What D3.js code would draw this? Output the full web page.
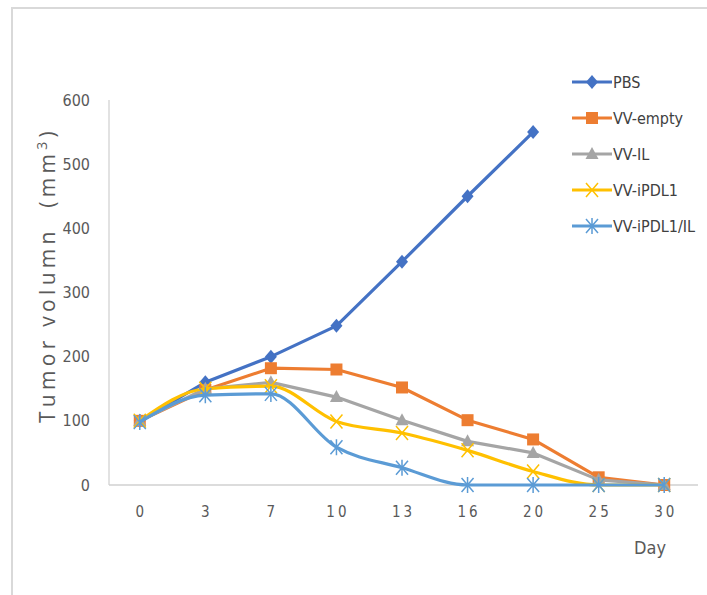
<!DOCTYPE html>
<html><head><meta charset="utf-8">
<script src="https://cdn.jsdelivr.net/npm/d3@7"></script>
<style>
body{margin:0;background:#fff;}
svg{display:block;}
</style></head>
<body>
<svg id="chart" width="707" height="595"></svg>
<script>
const days = ["0","3","7","10","13","16","20","25","30"];
const yTicks = [0,100,200,300,400,500,600];
const seriesNames = ["PBS","VV-empty","VV-IL","VV-iPDL1","VV-iPDL1/IL"];
const pbs        = [100,160,200,248,348,450,550,null,null];
const vvEmpty    = [100,148,182,180,152,101,71,12,0];
const vvIL       = [100,150,160,137,101,68,50,8,0];
const vvIPDL1    = [100,150,154,99,81,54,21,0,0];
const vvIPDL1IL  = [98,140,142,59,27,0,0,0,0];
const seriesValues = [pbs,vvEmpty,vvIL,vvIPDL1,vvIPDL1IL];

const colors = ["#4472C4","#ED7D31","#A5A5A5","#FFC000","#5B9BD5"];
const markers = ["diamond","square","triangle","x","star"];
const smooth = [false,false,false,true,true];

const svg = d3.select("#chart");
const font = "'Liberation Sans Narrow','DejaVu Sans Condensed',sans-serif";

// outer frame
svg.append("path").attr("d","M12,600 L12,8 L720,8").attr("fill","none")
  .attr("stroke","#d9d9d9").attr("stroke-width",2);

const pLeft=107, pRight=697, pTop=100, pBottom=485;
const x = d3.scaleBand().domain(days).range([pLeft,pRight]);
const y = d3.scaleLinear().domain([0,600]).range([pBottom,pTop]);
const cx = d => x(d)+x.bandwidth()/2;

// plot area left & bottom lines
svg.append("line").attr("x1",pLeft+2).attr("x2",pLeft+2).attr("y1",pTop).attr("y2",pBottom)
  .attr("stroke","#d9d9d9").attr("stroke-width",1.5);
svg.append("line").attr("x1",pLeft+2).attr("x2",pRight+1).attr("y1",pBottom).attr("y2",pBottom)
  .attr("stroke","#d0d0d0").attr("stroke-width",1.5);

// y axis
const yAxis = d3.axisLeft(y).tickValues(yTicks).tickSize(0).tickPadding(0);
const gy = svg.append("g").attr("transform",`translate(${pLeft-17},0)`).call(yAxis);
gy.select(".domain").remove();
gy.selectAll("text").attr("font-family",font).attr("font-size",16).attr("fill","#595959");

// x axis
const xAxis = d3.axisBottom(x).tickSize(0).tickPadding(0);
const gx = svg.append("g").attr("transform",`translate(0,${pBottom+21})`).call(xAxis);
gx.select(".domain").remove();
gx.selectAll("text").attr("font-family",font).attr("font-size",15).attr("fill","#595959")
  .attr("letter-spacing","3px").attr("dx","1.5px");

// axis titles
svg.append("text").attr("transform","translate(55,275) rotate(-90)")
  .attr("text-anchor","middle").attr("font-family","'Open Sans',sans-serif")
  .attr("font-size",21).attr("letter-spacing","4.3px").attr("fill","#595959")
  .html('Tumor volumn&#160;&#160;(mm<tspan dy="-8" font-size="14">3</tspan><tspan dy="8">)</tspan>');
svg.append("text").attr("x",650).attr("y",554).attr("text-anchor","middle")
  .attr("font-family",font).attr("font-size",18).attr("fill","#595959").text("Day");

function drawMarker(g, type, color, px, py){
  if(type==="diamond"){
    g.append("path").attr("d",`M${px},${py-7}L${px+6},${py}L${px},${py+7}L${px-6},${py}Z`).attr("fill",color);
  } else if(type==="square"){
    g.append("rect").attr("x",px-6).attr("y",py-6).attr("width",12).attr("height",12).attr("fill",color);
  } else if(type==="triangle"){
    g.append("path").attr("d",`M${px},${py-7}L${px+6.5},${py+5}L${px-6.5},${py+5}Z`).attr("fill",color);
  } else if(type==="x"){
    g.append("path").attr("d",`M${px-6},${py-7}L${px+6},${py+7}M${px+6},${py-7}L${px-6},${py+7}`)
      .attr("stroke",color).attr("stroke-width",1.5);
  } else if(type==="star"){
    g.append("path").attr("d",`M${px-6},${py-7}L${px+6},${py+7}M${px+6},${py-7}L${px-6},${py+7}M${px},${py-8}L${px},${py+8}`)
      .attr("stroke",color).attr("stroke-width",1.5);
  }
}

seriesNames.forEach((name,i)=>{
  const vals = seriesValues[i];
  const pts = days.map((d,j)=>({d, v: vals[j]})).filter(p=>p.v!==null);
  const line = d3.line().x(p=>cx(p.d)).y(p=>y(p.v))
    .curve(smooth[i]? d3.curveMonotoneX : d3.curveLinear);
  const g = svg.append("g");
  g.append("path").datum(pts).attr("d",line).attr("fill","none")
    .attr("stroke",colors[i]).attr("stroke-width",3.2).attr("stroke-linejoin","round");
  pts.forEach(p=>drawMarker(g, markers[i], colors[i], cx(p.d), y(p.v)));
});

// legend
const legY0 = 82, legStep = 36;
seriesNames.forEach((name,i)=>{
  const ly = legY0 + i*legStep;
  const g = svg.append("g");
  g.append("line").attr("x1",572).attr("x2",612).attr("y1",ly).attr("y2",ly)
    .attr("stroke",colors[i]).attr("stroke-width",3.2);
  drawMarker(g, markers[i], colors[i], 592, ly);
  g.append("text").attr("x",613).attr("y",ly).attr("dy","0.35em")
    .attr("font-family",font).attr("font-size",16).attr("fill","#404040").text(name);
});
</script>
</body></html>
